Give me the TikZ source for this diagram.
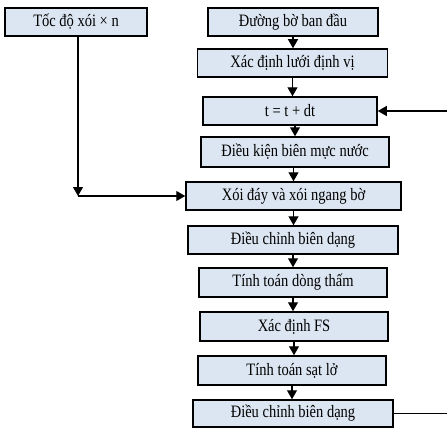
\documentclass[tikz,border=0pt]{standalone}
\usepackage{fontspec}
\usepackage{graphicx}
\setmainfont{Liberation Serif}
\usetikzlibrary{arrows.meta}
\definecolor{hopxanh}{HTML}{DCE6F2}
\newcommand{\chu}[1]{\scalebox{1}[1.2]{#1}}
\tikzset{
    hop/.style={draw, fill=hopxanh, line width=1.5pt, minimum height=28pt,
        inner sep=0pt, font=\fontsize{14.5}{16}\selectfont},
    muiten/.style={line width=1.3pt, -{Triangle[length=9pt,width=10pt]}}
}
\begin{document}
\begin{tikzpicture}[x=1pt,y=-1pt]

            \useasboundingbox (0,0) rectangle (447,428);

            \node[hop, minimum width=142pt] (tocdo) at (76,22) {\chu{Tốc độ xói × n}};
            \node[hop, minimum width=170pt] (duongbo) at (293,22) {\chu{Đường bờ ban đầu}};
            \node[hop, minimum width=190pt] (luoi) at (292.5,63) {\chu{Xác định lưới định vị}};
            \node[hop, minimum width=174pt] (tdt) at (290,111) {\chu{t = t + dt}};
            \node[hop, minimum width=188pt, minimum height=30pt] (bien) at (295,152) {\chu{Điều kiện biên mực nước}};
            \node[hop, minimum width=215pt] (xoi) at (293.5,196) {\chu{Xói đáy và xói ngang bờ}};
            \node[hop, minimum width=210pt] (chinh1) at (293,240) {\chu{Điều chỉnh biên dạng}};
            \node[hop, minimum width=188pt, minimum height=29pt] (tham) at (293,282.5) {\chu{Tính toán dòng thấm}};
            \node[hop, minimum width=188pt, minimum height=29pt] (fs) at (294,326.5) {\chu{Xác định FS}};
            \node[hop, minimum width=188pt, minimum height=29pt] (satlo) at (292,370.5) {\chu{Tính toán sạt lở}};
            \node[hop, minimum width=200pt, minimum height=27pt] (chinh2) at (293,413.5) {\chu{Điều chỉnh biên dạng}};

            % luong chinh
            \draw[muiten] (duongbo.south) -- (duongbo.south |- luoi.north);
            \draw[muiten] (luoi.south) -- (luoi.south |- tdt.north);
            \draw[muiten] (tdt.south -| bien) -- (bien.north);
            \draw[muiten] (bien.south -| xoi) -- (xoi.north);
            \draw[muiten] (xoi.south) -- (xoi.south |- chinh1.north);
            \draw[muiten] (chinh1.south) -- (chinh1.south |- tham.north);
            \draw[muiten] (tham.south) -- (tham.south |- fs.north);
            \draw[muiten] (fs.south) -- (fs.south |- satlo.north);
            \draw[muiten] (satlo.south) -- (satlo.south |- chinh2.north);

            % nhanh trai
            \coordinate (nut) at (78,196);
            \draw[muiten] (tocdo.south -| nut) -- (nut);
            \draw[muiten] (nut) -- (xoi.west);

            % vong lap
            \coordinate (vong) at (450,413.5);
            \draw[muiten] (chinh2.east) -- (vong) |- (tdt.east);

\end{tikzpicture}
\end{document}
